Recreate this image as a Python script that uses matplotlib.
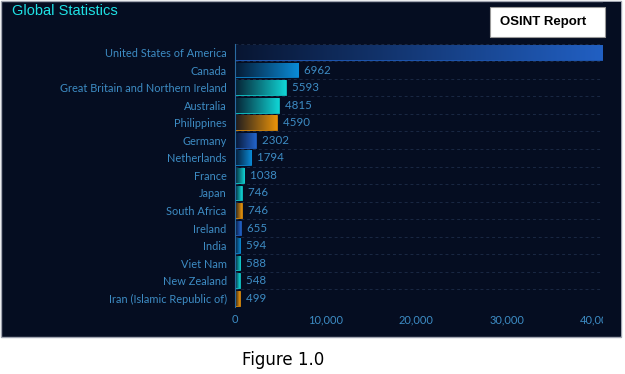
import matplotlib.pyplot as plt
import numpy as np
from matplotlib.colors import LinearSegmentedColormap, to_rgb
from matplotlib.patches import Rectangle
from matplotlib.ticker import FuncFormatter

countries = ["United States of America", "Canada", "Great Britain and Northern Ireland",
             "Australia", "Philippines", "Germany", "Netherlands", "France", "Japan",
             "South Africa", "Ireland", "India", "Viet Nam", "New Zealand",
             "Iran (Islamic Republic of)"]
counts = [42000, 6962, 5593, 4815, 4590, 2302, 1794, 1038, 746, 746, 655, 594, 588, 548, 499]
x_ticks = [0, 10000, 20000, 30000, 40000]

plt.rcParams["font.family"] = ["Lato", "DejaVu Sans"]

# colour cycle used by the dashboard
palette = ["#2262c8", "#0a8cd8", "#10d4d4", "#10d4d4", "#e8920a"]
bg = "#050d21"
label_col = "#3d8cc4"

W, H = 625, 374
fig = plt.figure(figsize=(W / 100, H / 100), dpi=100)
fig.patch.set_facecolor("white")

def fx(px):
    return px / W

def fy(py):
    return 1 - py / H

# dark panel
fig.add_artist(Rectangle((fx(1), fy(337)), fx(620), 336 / H, transform=fig.transFigure,
                         facecolor=bg, edgecolor="#a0a4b0", lw=1, zorder=-1))

ax = fig.add_axes([fx(235), fy(307), fx(603 - 235), (307 - 43.7) / H])
ax.set_facecolor("none")
xmax = (603 - 235) / 90.7 * 10000
ax.set_xlim(0, xmax)
n = len(countries)
ax.set_ylim(n - 0.5, -0.5)

h = 0.84
for i, (name, v) in enumerate(zip(countries, counts)):
    c = np.array(to_rgb(palette[i % len(palette)]))
    dark = 0.1 * c + 0.9 * np.array(to_rgb(bg))
    cmap = LinearSegmentedColormap.from_list("g%d" % i, [dark, c])
    bar = ax.barh(i, v, height=h, color="none", edgecolor=c, lw=0.6)[0]
    grad = np.linspace(0, 1, 256).reshape(1, -1)
    im = ax.imshow(grad, cmap=cmap, aspect="auto", extent=[0, v, i + h / 2, i - h / 2],
                   zorder=1)
    im.set_clip_path(bar)
    if v < xmax:
        ax.text(v, i, "  " + str(v), va="center", ha="left", color=label_col, fontsize=8.3)

ax.set_yticks(range(n))
ax.set_yticklabels(countries, fontsize=7.9)
ax.set_yticks(np.arange(n + 1) - 0.5, minor=True)
ax.grid(which="minor", axis="y", color="#1a2844", ls=(0, (3, 3)), lw=0.7)
ax.set_xticks(x_ticks)
ax.xaxis.set_major_formatter(FuncFormatter(lambda x, p: "{:,}".format(int(x))))
ax.tick_params(axis="both", which="both", length=0, colors=label_col)
ax.tick_params(axis="y", pad=6)
ax.tick_params(axis="x", pad=5, labelsize=8)
for s in ["top", "right", "bottom"]:
    ax.spines[s].set_visible(False)
ax.spines["left"].set_color("#2a6aa0")

# right clip of the chart area
fig.add_artist(Rectangle((fx(603), fy(336)), fx(18), 334 / H, transform=fig.transFigure,
                         facecolor=bg, edgecolor="none", zorder=5))

fig.text(fx(12), fy(11), "Global Statistics", color="#1fe0e4", fontsize=10.5,
         family="Liberation Sans", va="center", ha="left")

fig.add_artist(Rectangle((fx(490), fy(37)), fx(115), 30 / H, transform=fig.transFigure,
                         facecolor="white", edgecolor="#999999", lw=0.8, zorder=6))
fig.text(fx(543), fy(22), "OSINT Report", color="black", fontsize=9.5, fontweight="bold",
         family="Liberation Sans", va="center", ha="center", zorder=7)

fig.text(fx(283), fy(360), "Figure 1.0", color="black", fontsize=12, va="center",
         ha="center", family="DejaVu Sans")

fig.savefig("out.png", dpi=100)
